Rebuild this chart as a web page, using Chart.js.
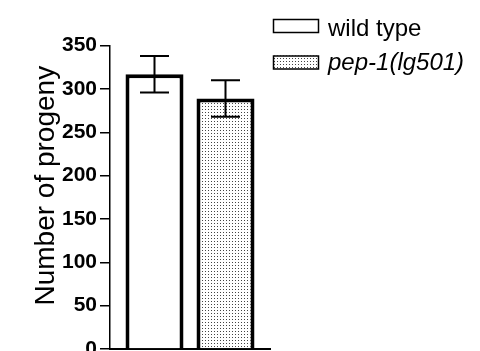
<!DOCTYPE html>
<html>
<head>
<meta charset="utf-8">
<script src="https://cdn.jsdelivr.net/npm/chart.js@4/dist/chart.umd.min.js"></script>
<style>
  html, body { margin: 0; padding: 0; background: #fff; overflow: hidden; }
  #wrap { width: 480px; height: 351px; }
</style>
</head>
<body>
<div id="wrap"><canvas id="myChart" width="480" height="351"></canvas></div>
<script>
// data
const groups = [''];
const seriesNames = ['wild type', 'pep-1(lg501)'];
const meanProgeny = [317, 289];
const errProgeny = [21, 21];
const yTicks = [0, 50, 100, 150, 200, 250, 300, 350];

const FONT = "'Liberation Sans', Arial, sans-serif";

// dotted fill for the mutant bar
function dotPattern() {
    const c = document.createElement('canvas');
    c.width = 3;
    c.height = 3;
    const g = c.getContext('2d');
    g.fillStyle = '#fff';
    g.fillRect(0, 0, 3, 3);
    g.fillStyle = '#444';
    g.fillRect(1, 1, 1, 1);
    return g.createPattern(c, 'repeat');
}
const fills = ['#ffffff', dotPattern()];

// error bars (mean +/- err), drawn on top of the bars
const errorBars = {
    id: 'errorBars',
    afterDatasetsDraw(chart) {
        const ctx = chart.ctx;
        const y = chart.scales.y;
        ctx.save();
        ctx.strokeStyle = '#000';
        ctx.lineWidth = 2;
        chart.data.datasets.forEach((ds, i) => {
            const bar = chart.getDatasetMeta(i).data[0];
            const top = y.getPixelForValue(meanProgeny[i] + errProgeny[i]);
            const bot = y.getPixelForValue(meanProgeny[i] - errProgeny[i]);
            const half = 14.5;
            ctx.beginPath();
            ctx.moveTo(bar.x, top);
            ctx.lineTo(bar.x, bot);
            ctx.moveTo(bar.x - half, top);
            ctx.lineTo(bar.x + half, top);
            ctx.moveTo(bar.x - half, bot);
            ctx.lineTo(bar.x + half, bot);
            ctx.stroke();
        });
        ctx.restore();
    }
};

// legend in the top right, second name in italics
const sideLegend = {
    id: 'sideLegend',
    afterDraw(chart) {
        const ctx = chart.ctx;
        const rows = [{ box: 19, base: 35.7, style: '' }, { box: 55.5, base: 70, style: 'italic ' }];
        ctx.save();
        chart.data.datasets.forEach((ds, i) => {
            const r = rows[i];
            ctx.fillStyle = ds.backgroundColor;
            ctx.fillRect(273, r.box, 46, 14);
            ctx.strokeStyle = '#000';
            ctx.lineWidth = 1.5;
            ctx.strokeRect(273.5, r.box + 0.5, 45, 13);
            ctx.fillStyle = '#000';
            ctx.font = r.style + '24px ' + FONT;
            ctx.textBaseline = 'alphabetic';
            ctx.fillText(ds.label, 328, r.base);
        });
        ctx.restore();
    }
};

const ctx = document.getElementById('myChart').getContext('2d');
const myChart = new Chart(ctx, {
    type: 'bar',
    data: {
        labels: groups,
        datasets: seriesNames.map((name, i) => ({
            label: name,
            data: [meanProgeny[i]],
            backgroundColor: fills[i],
            borderColor: '#000',
            borderWidth: 4,
            borderSkipped: 'bottom',
            categoryPercentage: 0.8875,
            barPercentage: 0.817
        }))
    },
    options: {
        responsive: false,
        animation: false,
        events: [],
        layout: { padding: { left: 0, top: 45.7, right: 210, bottom: 2 } },
        plugins: {
            legend: { display: false },
            tooltip: { enabled: false }
        },
        scales: {
            x: {
                grid: { display: false },
                ticks: { display: false },
                border: { display: true, color: '#000', width: 2 },
                afterFit(s) { s.height = 0; }
            },
            y: {
                min: 0,
                max: 350,
                afterBuildTicks(s) { s.ticks = yTicks.map(v => ({ value: v })); },
                ticks: {
                    color: '#000',
                    padding: 3,
                    font: { family: FONT, size: 21, weight: 'bold' }
                },
                grid: {
                    drawOnChartArea: false,
                    drawTicks: true,
                    tickLength: 10,
                    color: '#000',
                    lineWidth: 1.5
                },
                border: { display: true, color: '#000', width: 1.5 },
                title: {
                    display: true,
                    text: '\u00a0\u00a0\u00a0Number of progeny',
                    color: '#000',
                    font: { family: FONT, size: 28 },
                    padding: { top: 29 }
                },
                afterFit(s) {
                    s.width = 110;
                    s.paddingTop = 0;
                    s.paddingBottom = 0;
                }
            }
        }
    },
    plugins: [errorBars, sideLegend]
});
</script>
</body>
</html>
